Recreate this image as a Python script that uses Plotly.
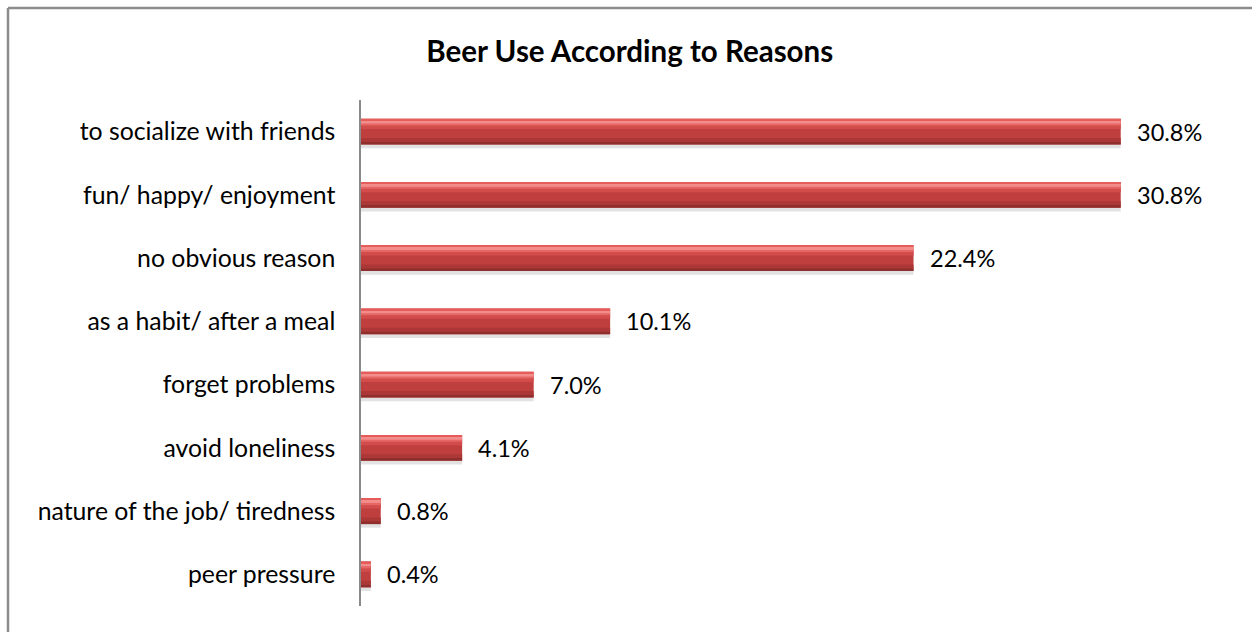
import plotly.graph_objects as go

# Reasons for drinking beer, listed top to bottom, with their shares (%)
reasons = [
    "to socialize with friends",
    "fun/ happy/ enjoyment",
    "no obvious reason",
    "as a habit/ after a meal",
    "forget problems",
    "avoid loneliness",
    "nature of the job/ tiredness",
    "peer pressure",
]
shares = [30.8, 30.8, 22.4, 10.1, 7.0, 4.1, 0.8, 0.4]
value_labels = ["30.8%", "30.8%", "22.4%", "10.1%", "7.0%", "4.1%", "0.8%", "0.4%"]

W, H = 1252, 632
ML, MR, MT, MB = 361, 3, 100, 26
FONT = "Lato"

fig = go.Figure()

# Cylinder-like shading: overlaid bands of the same bar, each a different tone
bar_bands = [
    # (offset, width, colour)
    (-0.262, 0.06, "rgba(150,150,150,0.28)"),  # soft drop shadow
    (-0.205, 0.41, "#bf3f3e"),                  # body
    (-0.205, 0.045, "#8e2f2e"),                 # dark lower edge
    (-0.16, 0.06, "#ab3736"),
    (0.04, 0.07, "#d24c4b"),
    (0.095, 0.05, "#e46665"),
    (0.13, 0.05, "#f38d8c"),                    # highlight
    (0.178, 0.027, "#e65c5b"),                  # upper rim
]
for off, wid, col in bar_bands:
    fig.add_trace(go.Bar(
        x=shares,
        y=reasons,
        orientation="h",
        offset=off,
        width=wid,
        marker=dict(color=col, line=dict(width=0)),
        hoverinfo="skip",
        showlegend=False,
    ))

# Percentage labels to the right of each bar
for r, v, lab in zip(reasons, shares, value_labels):
    fig.add_annotation(
        x=v, y=r, text=lab, showarrow=False,
        xanchor="left", yanchor="middle", xshift=14,
        font=dict(family=FONT, size=23.5, color="#000000"),
    )

# Outer chart frame (top and left edges)
fx = (8 - ML) / (W - ML - MR)
fy = (H - MB - 8) / (H - MT - MB)
frame = dict(color="#8c8c8c", width=2.5)
fig.add_shape(type="line", xref="paper", yref="paper",
              x0=fx, y0=fy, x1=1.2, y1=fy, line=frame)
fig.add_shape(type="line", xref="paper", yref="paper",
              x0=fx, y0=fy, x1=fx, y1=-0.2, line=frame)

fig.update_layout(
    width=W, height=H,
    margin=dict(l=ML, r=MR, t=MT, b=MB),
    barmode="overlay",
    plot_bgcolor="white",
    paper_bgcolor="white",
    font=dict(family=FONT, size=24, color="#000000"),
    title=dict(
        text="<b>Beer Use According to Reasons</b>",
        x=0.503, xanchor="center",
        y=1 - 52 / H, yanchor="middle",
        font=dict(family=FONT, size=29.5, color="#000000"),
    ),
    xaxis=dict(range=[0, 36], visible=False, fixedrange=True),
    yaxis=dict(
        categoryorder="array",
        categoryarray=list(reversed(reasons)),
        range=[-0.5, 7.5],
        showline=True, linecolor="#8a8a8a", linewidth=1.5,
        ticks="", showgrid=False, zeroline=False,
        ticklabelstandoff=19,
        tickfont=dict(family=FONT, size=24.8, color="#000000"),
    ),
)

fig.write_html("out.html")
